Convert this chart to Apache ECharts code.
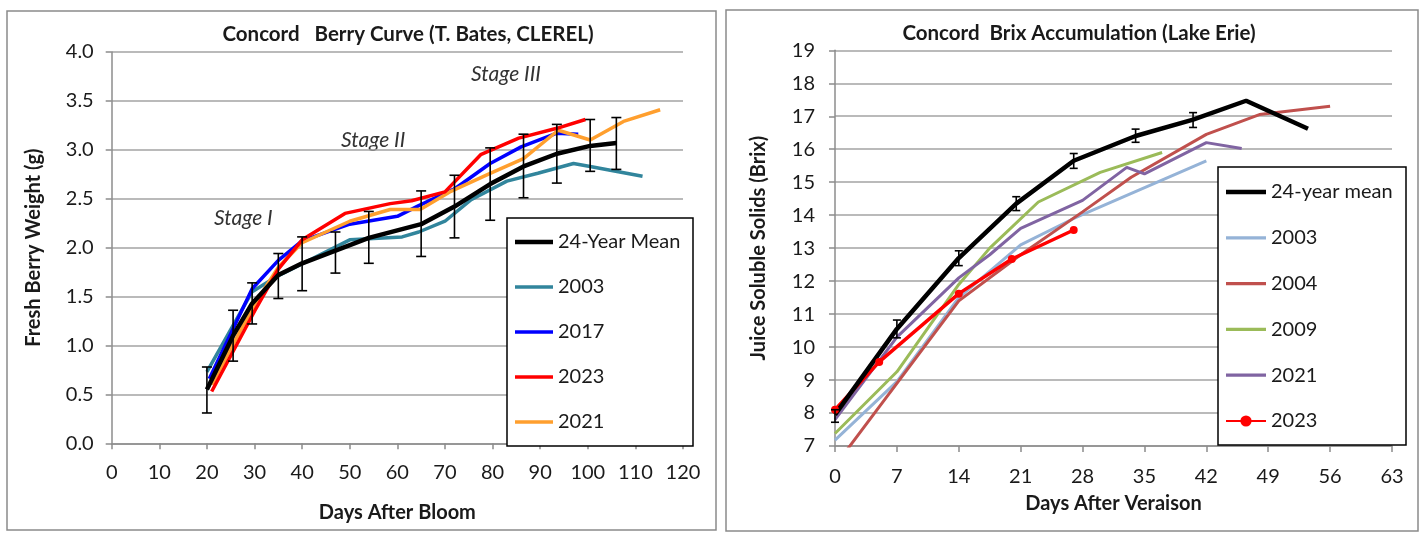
<!DOCTYPE html>
<html><head><meta charset="utf-8">
<script src="https://cdn.jsdelivr.net/npm/echarts@6/dist/echarts.min.js"></script>
<style>html,body{margin:0;padding:0;background:#fff}#c{width:1423px;height:533px}</style>
</head><body><div id="c"></div>
<script>
// ---------- Left chart: Concord Berry Curve ----------
const berryXTicks = [0,10,20,30,40,50,60,70,80,90,100,110,120];
const meanDays = [20, 25.5, 29.5, 35, 40, 47, 54, 65, 72, 79.5, 86.5, 93.5, 100.5, 106];
const meanVals = [0.55, 1.10, 1.43, 1.72, 1.84, 1.97, 2.10, 2.24, 2.42, 2.65, 2.83, 2.96, 3.04, 3.07];
const meanLow  = [0.31, 0.84, 1.22, 1.48, 1.56, 1.74, 1.84, 1.91, 2.10, 2.28, 2.51, 2.66, 2.78, 2.80];
const meanHigh = [0.78, 1.36, 1.64, 1.94, 2.11, 2.16, 2.37, 2.58, 2.74, 3.02, 3.16, 3.26, 3.31, 3.33];
const b2003Days = [20, 29.5, 34.5, 50, 61, 64.5, 70, 75.5, 83, 89.5, 97, 100.5, 111.5];
const b2003Vals = [0.73, 1.55, 1.70, 2.08, 2.11, 2.16, 2.27, 2.49, 2.68, 2.76, 2.86, 2.83, 2.73];
const b2017Days = [20.5, 29.5, 35, 40, 50, 60, 64.5, 72, 79.5, 86, 93.5, 98];
const b2017Vals = [0.66, 1.58, 1.87, 2.07, 2.24, 2.32, 2.43, 2.60, 2.86, 3.03, 3.17, 3.16];
const b2023Days = [21, 30, 35, 40, 49, 58.5, 63, 70, 77.5, 85.5, 93.5, 99.5];
const b2023Vals = [0.53, 1.35, 1.78, 2.08, 2.35, 2.45, 2.48, 2.57, 2.95, 3.12, 3.22, 3.31];
const b2021Days = [21, 30, 35, 40, 50, 58.5, 64.8, 71, 79.5, 86.5, 93.8, 100.5, 107.5, 115.2];
const b2021Vals = [0.60, 1.42, 1.80, 2.05, 2.27, 2.39, 2.39, 2.57, 2.76, 2.91, 3.20, 3.10, 3.29, 3.41];
const berryNames = ['24-Year Mean', '2003', '2017', '2023', '2021'];
const stageLabels = ['Stage I', 'Stage II', 'Stage III'];

// ---------- Right chart: Concord Brix Accumulation ----------
const brixMeanDays = [0, 7, 14, 20.5, 27, 34, 40.5, 46.5, 53.5];
const brixMeanVals = [7.95, 10.55, 12.70, 14.35, 15.65, 16.40, 16.90, 17.47, 16.62];
const brixErrDays = [0, 7, 14, 20.5, 27, 34, 40.5];
const brixErrLow  = [7.72, 10.28, 12.47, 14.14, 15.42, 16.21, 16.66];
const brixErrHigh = [8.10, 10.82, 12.92, 14.56, 15.87, 16.61, 17.11];
const x2003Days = [0, 7, 14, 21, 27, 42];
const x2003Vals = [7.18, 8.95, 11.50, 13.10, 13.90, 15.65];
const x2004Days = [0, 14, 21, 28, 33.5, 42, 48, 56];
const x2004Vals = [6.40, 11.40, 12.80, 14.10, 15.15, 16.45, 17.05, 17.30];
const x2009Days = [0, 7, 14, 17.5, 23, 30, 37];
const x2009Vals = [7.38, 9.25, 11.90, 13.00, 14.40, 15.30, 15.90];
const x2021Days = [0, 7, 14, 17.5, 21, 28, 33, 35, 42, 46];
const x2021Vals = [7.80, 10.30, 12.10, 12.80, 13.60, 14.45, 15.45, 15.25, 16.20, 16.02];
const x2023Days = [0, 5, 14, 20, 27];
const x2023Vals = [8.10, 9.55, 11.62, 12.67, 13.55];
const brixNames = ['24-year mean', '2003', '2004', '2009', '2021', '2023'];

const FONT = 'Lato, "Open Sans", sans-serif';
const TXT = '#1a1a1a';
const RP = 'B:'; // internal prefix so right-chart series names differ from left-chart ones
const zip = (a, b) => a.map((v, i) => [v, b[i]]);
const zip3 = (a, b, c) => a.map((v, i) => [v, b[i], c[i]]);
const lineIcon = t => 'path://M0,0M40,14M0,' + (7 - t / 2) + 'L40,' + (7 - t / 2) + 'L40,' + (7 + t / 2) + 'L0,' + (7 + t / 2) + 'Z';

function errorSeries(xi, yi, data, cap) {
  return {
    type: 'custom', xAxisIndex: xi, yAxisIndex: yi, silent: true, z: 5,
    data: data,
    renderItem: function (params, api) {
      const x = api.value(0);
      const lo = api.coord([x, api.value(1)]);
      const hi = api.coord([x, api.value(2)]);
      const st = { stroke: '#000', lineWidth: 1.6 };
      return { type: 'group', children: [
        { type: 'line', shape: { x1: lo[0], y1: lo[1], x2: hi[0], y2: hi[1] }, style: st },
        { type: 'line', shape: { x1: lo[0] - cap, y1: lo[1], x2: lo[0] + cap, y2: lo[1] }, style: st },
        { type: 'line', shape: { x1: hi[0] - cap, y1: hi[1], x2: hi[0] + cap, y2: hi[1] }, style: st }
      ]};
    }
  };
}
function lineS(name, xi, yi, data, color, w, extra) {
  return Object.assign({
    name, type: 'line', xAxisIndex: xi, yAxisIndex: yi, data,
    symbol: 'none', smooth: false, clip: true,
    lineStyle: { color, width: w }, itemStyle: { color },
    emphasis: { disabled: true }
  }, extra || {});
}

const axisCommon = {
  axisLine: { show: true, lineStyle: { color: '#8c8c8c', width: 1.5 } },
  axisTick: { show: true, length: 6, lineStyle: { color: '#8c8c8c', width: 1.5 } },
  splitLine: { show: false },
  nameTextStyle: { fontFamily: FONT, fontWeight: 'bold', fontSize: 20, color: TXT }
};
const tickFont = { fontFamily: FONT, fontSize: 20, color: TXT };

const leftLegendData = berryNames.map((n, i) => ({ name: n, icon: lineIcon(i === 0 ? 4.5 : 3.5) }));
const rightLegendData = brixNames.map((n, i) => {
  const item = { name: RP + n };
  if (n !== '2023') item.icon = lineIcon(i === 0 ? 4.5 : 3.2);
  return item;
});

const chart = echarts.init(document.getElementById('c'), null, { renderer: 'canvas' });
chart.setOption({
  animation: false,
  backgroundColor: '#fff',
  title: [
    { text: 'Concord   Berry Curve (T. Bates, CLEREL)', left: 403, top: 19, textAlign: 'center',
      textStyle: { fontFamily: FONT, fontWeight: 'bold', fontSize: 20.5, color: TXT } },
    { text: 'Concord  Brix Accumulation (Lake Erie)', left: 1074, top: 18, textAlign: 'center',
      textStyle: { fontFamily: FONT, fontWeight: 'bold', fontSize: 20.5, color: TXT } }
  ],
  grid: [
    { left: 111.7, top: 52, width: 571.3, height: 391.3 },
    { left: 835, top: 50.3, width: 557, height: 395.7 }
  ],
  xAxis: [
    Object.assign({}, axisCommon, {
      gridIndex: 0, type: 'value', min: berryXTicks[0], max: berryXTicks[berryXTicks.length - 1], interval: 10,
      name: 'Days After Bloom', nameLocation: 'middle', nameGap: 59,
      axisLabel: Object.assign({ margin: 19 }, tickFont)
    }),
    Object.assign({}, axisCommon, {
      gridIndex: 1, type: 'value', min: 0, max: 63, interval: 7,
      name: 'Days After Veraison', nameLocation: 'middle', nameGap: 48,
      axisLabel: Object.assign({ margin: 21 }, tickFont)
    })
  ],
  yAxis: [
    Object.assign({}, axisCommon, {
      gridIndex: 0, type: 'value', min: 0, max: 4, interval: 0.5,
      name: 'Fresh Berry Weight (g)', nameLocation: 'middle', nameGap: 68,
      axisLabel: Object.assign({ margin: 18, formatter: v => v.toFixed(1) }, tickFont),
      splitLine: { show: true, lineStyle: { color: '#a3a3a3', width: 1.6 } }
    }),
    Object.assign({}, axisCommon, {
      gridIndex: 1, type: 'value', min: 7, max: 19, interval: 1,
      name: 'Juice Soluble Solids (Brix)', nameLocation: 'middle', nameGap: 66,
      axisLabel: Object.assign({ margin: 20 }, tickFont),
      splitLine: { show: true, lineStyle: { color: '#a3a3a3', width: 1.6 } }
    })
  ],
  legend: [
    { data: leftLegendData, orient: 'vertical', left: 507, top: 218, padding: [13, 8, 12, 8], z: 20,
      itemWidth: 38, itemHeight: 14, itemGap: 23, selectedMode: false,
      textStyle: Object.assign({ lineHeight: 22 }, tickFont) },
    { data: rightLegendData, orient: 'vertical', left: 1218, top: 167, padding: [14, 7, 12, 7], z: 20,
      itemWidth: 40, itemHeight: 14, itemGap: 23.8, selectedMode: false,
      formatter: n => n.replace(RP, ''),
      textStyle: Object.assign({ lineHeight: 22 }, tickFont) }
  ],
  graphic: [
    { type: 'rect', z: -1, shape: { x: 7, y: 11, width: 709, height: 519 }, style: { fill: 'none', stroke: '#8a8a8a', lineWidth: 1.5 } },
    { type: 'rect', z: -1, shape: { x: 726, y: 10, width: 692, height: 521 }, style: { fill: 'none', stroke: '#8a8a8a', lineWidth: 1.5 } },
    { type: 'rect', z: 4, shape: { x: 507, y: 218, width: 186, height: 228 }, style: { fill: '#fff', stroke: '#000', lineWidth: 1.5 } },
    { type: 'rect', z: 4, shape: { x: 1218, y: 167, width: 188, height: 278 }, style: { fill: '#fff', stroke: '#000', lineWidth: 1.5 } },
    { type: 'text', left: 214, top: 208, style: { text: stageLabels[0], fontFamily: FONT, fontStyle: 'italic', fontSize: 21, fill: '#333' } },
    { type: 'text', left: 341, top: 130, style: { text: stageLabels[1], fontFamily: FONT, fontStyle: 'italic', fontSize: 21, fill: '#333' } },
    { type: 'text', left: 471, top: 64, style: { text: stageLabels[2], fontFamily: FONT, fontStyle: 'italic', fontSize: 21, fill: '#333' } }
  ],
  series: [
    errorSeries(0, 0, zip3(meanDays, meanLow, meanHigh), 5),
    lineS('2003', 0, 0, zip(b2003Days, b2003Vals), '#31859C', 3.5),
    lineS('2017', 0, 0, zip(b2017Days, b2017Vals), '#0000FF', 3.5),
    lineS('2021', 0, 0, zip(b2021Days, b2021Vals), '#FF9F2E', 3.5),
    lineS('2023', 0, 0, zip(b2023Days, b2023Vals), '#FF0000', 3.5),
    lineS('24-Year Mean', 0, 0, zip(meanDays, meanVals), '#000000', 4.5, { z: 3 }),

    errorSeries(1, 1, zip3(brixErrDays, brixErrLow, brixErrHigh), 4),
    lineS(RP + '2003', 1, 1, zip(x2003Days, x2003Vals), '#95B3D7', 3),
    lineS(RP + '2004', 1, 1, zip(x2004Days, x2004Vals), '#C0504D', 3),
    lineS(RP + '2009', 1, 1, zip(x2009Days, x2009Vals), '#9BBB59', 3),
    lineS(RP + '2021', 1, 1, zip(x2021Days, x2021Vals), '#8064A2', 3),
    lineS(RP + '2023', 1, 1, zip(x2023Days, x2023Vals), '#FF0000', 3.5, { symbol: 'circle', symbolSize: 8, showSymbol: true }),
    lineS(RP + '24-year mean', 1, 1, zip(brixMeanDays, brixMeanVals), '#000000', 4.5, { z: 3 })
  ]
});
</script></body></html>
